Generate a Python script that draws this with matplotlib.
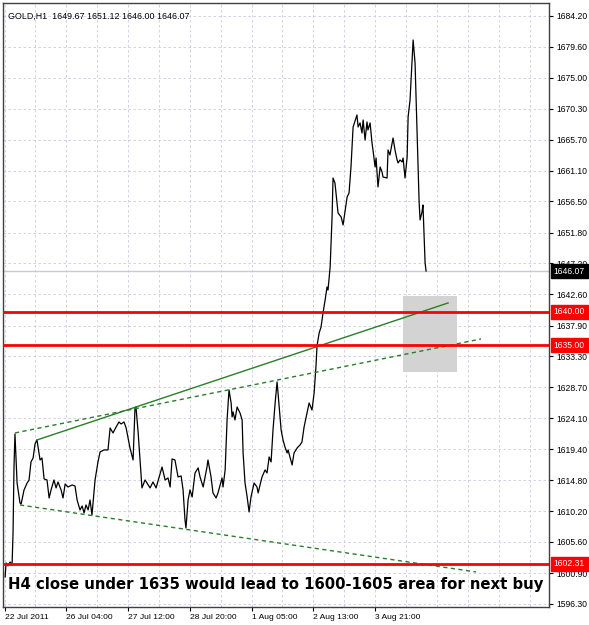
import matplotlib
matplotlib.use("Agg")
import matplotlib.pyplot as plt
from matplotlib.patches import Rectangle
import numpy as np

# ---- data (H1 bar index, close price) ----
hours = [0.3, 0.8, 1.8, 2.9, 3.9, 4.4, 4.9, 5.4, 6.5, 8.0, 8.6, 10.1, 11.7, 12.7, 13.7, 14.8,
         15.8, 16.8, 18.4, 19.4, 20.5, 22.0, 23.1, 24.1, 25.6, 26.7, 27.7, 29.3, 30.3, 31.4,
         32.9, 35.0, 36.5, 37.6, 39.1, 40.2, 41.2, 42.2, 43.3, 44.3, 45.3, 46.9, 48.4, 49.5,
         51.6, 53.6, 54.7, 56.2, 57.8, 59.3, 60.4, 61.9, 63.0, 65.0, 66.6, 67.6, 68.1, 69.2,
         71.2, 72.8, 75.4, 76.9, 78.5, 81.6, 83.2, 84.7, 85.8, 86.8, 88.3, 89.9, 91.5, 92.5,
         93.5, 94.0, 95.1, 96.1, 97.2, 98.7, 100.3, 101.3, 102.9, 104.9, 105.4, 107.0, 108.0,
         109.6, 110.6, 112.7, 113.2, 114.3, 115.3, 116.3, 117.4, 117.9, 118.4, 119.4, 120.5,
         122.0, 123.1, 123.6, 124.6, 125.7, 126.7, 127.7, 129.3, 130.8, 131.4, 133.4, 135.0,
         136.0, 137.1, 138.1, 139.1, 140.2, 141.2, 141.7, 143.3, 144.3, 145.3, 146.4, 146.9,
         149.0, 150.0, 151.6, 153.1, 154.1, 155.2, 156.7, 157.8, 159.3, 160.4, 161.4, 161.9,
         163.0, 164.0, 165.0, 166.1, 167.1, 167.6, 168.7, 169.7, 170.2, 171.2, 172.8, 174.4,
         175.4, 177.5, 178.5, 179.5, 180.6, 182.6, 183.2, 184.2, 185.2, 185.8, 186.8, 187.8,
         188.3, 189.4, 190.4, 190.9, 192.0, 192.5, 193.0, 193.5, 194.6, 195.6, 196.1, 198.2,
         198.7, 199.7, 201.3, 202.3, 203.4, 203.9, 204.9, 206.0, 206.5, 207.5, 208.6, 209.1,
         210.1, 211.7, 212.7, 213.7, 214.3, 214.8, 215.3, 216.3, 216.8, 217.4, 217.9, 218.4]
close = [1600.34, 1602.43, 1601.99, 1602.58, 1602.13, 1606.92, 1616.78, 1621.72, 1614.39,
         1611.40, 1611.25, 1613.35, 1614.39, 1614.84, 1617.53, 1618.13, 1620.22, 1620.82,
         1617.83, 1618.13, 1614.99, 1614.84, 1612.15, 1613.35, 1614.84, 1613.65, 1614.54,
         1613.35, 1612.15, 1614.24, 1613.79, 1614.09, 1613.94, 1611.85, 1610.36, 1610.95,
         1609.91, 1611.10, 1610.36, 1611.85, 1609.61, 1614.84, 1617.53, 1619.03, 1619.33,
         1619.33, 1622.61, 1621.87, 1622.76, 1623.51, 1623.21, 1623.51, 1622.61, 1619.62,
         1617.83, 1625.60, 1625.75, 1622.02, 1613.65, 1614.84, 1613.65, 1614.54, 1613.65,
         1616.78, 1614.84, 1615.14, 1613.79, 1617.98, 1617.83, 1615.29, 1615.44, 1613.35,
         1608.86, 1607.67, 1611.85, 1613.35, 1612.30, 1615.89, 1616.64, 1615.29, 1613.79,
         1616.78, 1617.83, 1615.29, 1612.90, 1612.15, 1612.90, 1615.14, 1613.79, 1616.34,
         1623.81, 1628.29, 1626.35, 1624.26, 1625.01, 1623.81, 1625.75, 1624.86, 1623.81,
         1618.88, 1614.39, 1612.30, 1610.06, 1612.30, 1614.39, 1613.79, 1612.90, 1615.29,
         1616.34, 1615.89, 1618.28, 1617.53, 1622.32, 1626.35, 1629.49, 1627.85, 1622.32,
         1620.82, 1619.77, 1618.88, 1619.33, 1617.08, 1618.88, 1619.62, 1620.07, 1620.52,
         1622.76, 1624.86, 1626.35, 1625.30, 1627.85, 1632.03, 1634.87, 1636.81, 1637.71,
         1639.80, 1641.75, 1643.69, 1643.24, 1646.68, 1654.15, 1659.98, 1659.24, 1654.75,
         1654.15, 1652.96, 1657.14, 1657.74, 1661.63, 1667.61, 1669.40, 1667.61, 1668.21,
         1666.71, 1668.65, 1665.66, 1668.36, 1667.16, 1668.21, 1665.22, 1664.17, 1661.63,
         1662.97, 1660.88, 1658.64, 1661.63, 1660.88, 1660.13, 1659.98, 1664.17, 1663.42,
         1665.96, 1664.17, 1662.67, 1662.23, 1662.67, 1662.38, 1662.97, 1659.98, 1663.12,
         1669.10, 1671.64, 1680.61, 1677.17, 1667.16, 1661.18, 1656.40, 1653.71, 1654.90,
         1655.95, 1651.16, 1647.28, 1646.07]

# trend lines: (hour0, price0, hour1, price1)
upper_solid = (16.8, 1620.82, 229.8, 1641.30)
upper_dashed = (5.4, 1621.87, 246.9, 1635.92)
lower_dashed = (8.0, 1611.10, 244.3, 1601.09)

# zone rectangle (hours, prices)
zone_hours = (206.5, 234.5)
zone_prices = (1631.0, 1642.35)

levels = [1640.00, 1635.00, 1602.31]
bid = 1646.07

ytick_vals = [1684.20, 1679.60, 1675.00, 1670.30, 1665.70, 1661.10, 1656.50, 1651.80,
              1647.20, 1642.60, 1637.90, 1633.30, 1628.70, 1624.10, 1619.40, 1614.80,
              1610.20, 1605.60, 1600.90, 1596.30]
xtick_hours = [0, 32, 64, 96, 128, 160, 192]
xtick_labels = ["22 Jul 2011", "26 Jul 04:00", "27 Jul 12:00", "28 Jul 20:00",
                "1 Aug 05:00", "2 Aug 13:00", "3 Aug 21:00"]
header = "GOLD,H1  1649.67 1651.12 1646.00 1646.07"
note = "H4 close under 1635 would lead to 1600-1605 area for next buy"

# ---- figure ----
W, H = 589, 625
fig = plt.figure(figsize=(W / 100, H / 100), dpi=100)
fig.patch.set_facecolor("white")
ax = fig.add_axes([3 / W, 18 / H, 546 / W, 604 / H])
ax.set_facecolor("white")

ax.set_xlim(-0.8, 282.1)
ax.set_ylim(1595.85, 1686.14)

small = "Liberation Sans"
gridc = "#c9c9e6"
for yv in ytick_vals:
    ax.axhline(yv, color=gridc, lw=0.6, ls=(0, (3, 3)), zorder=0)
for xv in np.arange(0, 290, 16):
    ax.axvline(xv, color=gridc, lw=0.6, ls=(0, (3, 3)), zorder=0)

ax.axhline(bid, color="#c8c8dc", lw=1.0, zorder=1)

ax.add_patch(Rectangle((zone_hours[0], zone_prices[0]), zone_hours[1] - zone_hours[0],
                       zone_prices[1] - zone_prices[0], facecolor="#d3d3d3",
                       edgecolor="none", zorder=1))

ax.plot(hours, close, color="black", lw=0.9, zorder=3)

gcol = "#2a7d2a"
ax.plot(upper_solid[0::2], upper_solid[1::2], color=gcol, lw=1.0, zorder=4)
ax.plot(upper_dashed[0::2], upper_dashed[1::2], color=gcol, lw=1.0, ls=(0, (3, 2.5)), zorder=4)
ax.plot(lower_dashed[0::2], lower_dashed[1::2], color=gcol, lw=1.0, ls=(0, (3, 2.5)), zorder=4)

for lv in levels:
    ax.axhline(lv, color="#ff0000", lw=2.0, zorder=5)

# axes ticks
ax.yaxis.tick_right()
ax.set_yticks(ytick_vals)
ax.set_yticklabels([f"{v:.2f}" for v in ytick_vals], fontsize=6.2, family=small)
ax.tick_params(axis="y", direction="out", length=3, pad=2.5, colors="black", width=0.8)
ax.set_xticks(xtick_hours)
ax.set_xticklabels(xtick_labels, fontsize=6.1, family=small)
for lbl in ax.get_xticklabels():
    lbl.set_ha("left")
ax.tick_params(axis="x", direction="out", length=3, pad=2, width=0.8)

for sp in ax.spines.values():
    sp.set_color("#404040")
    sp.set_linewidth(1.0)

# price labels at right
box_y = [(bid, "black")] + [(lv, "#ff0000") for lv in levels]
for val, col in box_y:
    ax.annotate(f"{val:.2f}", xy=(1.0, val), xycoords=("axes fraction", "data"),
                xytext=(3.5, 0), textcoords="offset points", ha="left", va="center",
                fontsize=6.2, color="white", family=small, zorder=10,
                bbox=dict(boxstyle="square,pad=0.3", facecolor=col, edgecolor=col),
                annotation_clip=False)

ax.text(0.009, 0.986, header, transform=ax.transAxes, ha="left", va="top",
        fontsize=6.4, family=small, color="black")

ax.text(0.009, 0.038, note, transform=ax.transAxes, ha="left", va="center",
        fontsize=10.75, fontweight="bold", family="DejaVu Sans", color="black", zorder=6)

fig.savefig("out.png", dpi=100, facecolor="white")
